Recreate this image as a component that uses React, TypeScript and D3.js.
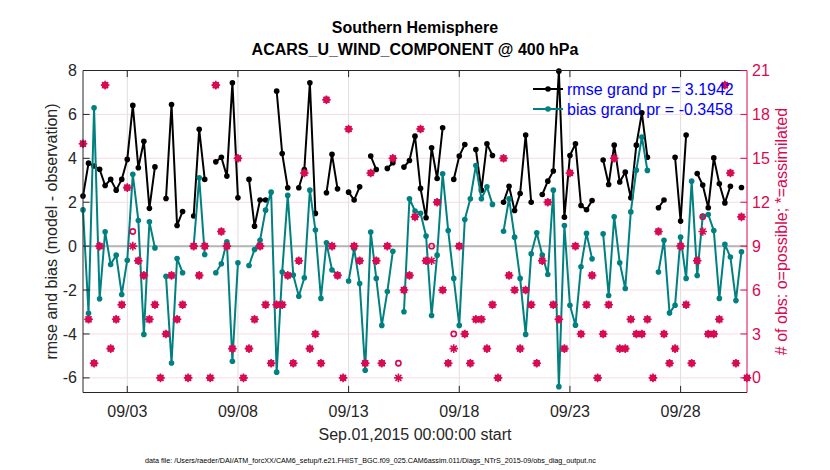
import { useEffect, useRef } from 'react';
import * as d3 from 'd3';

// 6-hourly bins starting Sep 1 2015 00Z (121 bins, NaN = no value)
const rmse = [
  2.28, 3.78, 3.65, 3.5, 2.76, 3.04, 2.55, 3.04, 3.95, 6.41,
  3.57, 4.78, 1.72, 3.61, NaN, 2.17, 6.45, 0.94, 1.58, NaN,
  1.37, 5.32, 3.04, NaN, 3.84, 4.05, 3.19, 7.44, 2.2, NaN,
  3.04, 0.91, 2.1, 2.1, NaN, 7.06, 4.22, 2.66, NaN, 2.66,
  3.49, 7.44, 1.49, NaN, 2.43, 4.18, 2.61, NaN, 2.46, 2.1,
  2.7, NaN, 4.1, 3.49, NaN, 3.54, 3.8, NaN, 3.6, 3.9,
  5.01, 2.63, 1.29, 4.48, 3.08, 5.39, NaN, 3.04, 4.1, 4.63,
  NaN, 4.4, 2.55, 4.66, 4.13, NaN, 2.0, 2.73, 1.62, 2.4,
  5.06, 2.0, NaN, 2.35, 2.96, 3.42, 7.97, 1.32, 4.13, 4.66,
  1.85, 1.66, 2.08, NaN, 3.92, 2.81, 4.6, 2.92, 3.37, 2.2,
  4.6, 6.07, 4.05, NaN, 1.75, 2.1, NaN, 4.05, 1.14, 5.06,
  NaN, 3.31, 2.78, 1.75, 4.02, 2.84, 1.97, 2.73, NaN, 2.67,
  NaN,
];
const bias = [
  1.65, -3.06, 6.3, -2.4, 0.65, -0.84, -0.41, -2.2, -0.64, 3.27,
  1.17, -4.02, 1.11, -0.08, NaN, -1.37, -5.32, -0.56, -1.21, NaN,
  0.0, 3.11, -0.38, NaN, -1.21, -0.8, 0.2, -5.24, -0.76, NaN,
  -0.88, -0.15, 0.27, 1.64, 2.46, -5.74, -1.18, 2.31, -1.32, -2.28,
  -1.44, 2.55, 0.73, -2.38, 0.15, -1.09, -1.29, NaN, -1.59, -0.12,
  -1.7, -5.65, 0.64, -1.47, -3.61, -2.07, -0.23, NaN, -2.99, 2.16,
  1.6, 1.5, 0.46, -3.16, -0.41, 3.3, 0.71, -1.47, -3.61, 1.21,
  2.16, 3.67, 2.16, 2.7, 1.9, NaN, 0.68, 2.16, 0.41, -1.47,
  -4.02, -0.35, 0.61, -0.41, -1.29, 2.55, -6.4, 0.94, -2.69, -3.6,
  -0.94, 0.58, -0.58, NaN, 0.56, -2.25, 1.34, -0.76, -1.93, 1.56,
  3.46, 4.97, 3.45, NaN, -1.18, 0.27, -3.04, -2.69, 0.41, -1.47,
  2.96, -1.34, 1.37, 1.44, 0.71, -2.38, 0.08, -0.5, -2.48, -0.26,
  NaN,
];
const nPossible = [
  16, 4, 1, 9, 20, 2, 4, 5, 13, 10,
  8, 7, 4, 5, 0, 3, 7, 4, 5, 0,
  9, 7, 9, 0, 20, 10, 9, 2, 15, 0,
  2, 4, 9, 5, 1, 5, 5, 7, 1, 8,
  14, 2, 3, 1, 19, 9, 7, 0, 17, 9,
  8, 1, 14, 8, 1, 9, 15, 1, 6, 7,
  11, 17, 8, 9, 12, 6, 1, 3, 9, 3,
  1, 4, 4, 2, 5, 0, 15, 7, 6, 2,
  6, 5, 1, 8, 12, 5, 4, 2, 14, 9,
  3, 5, 7, 0, 3, 5, 15, 2, 2, 4,
  3, 3, 4, 0, 10, 3, 1, 2, 9, 5,
  1, 8, 11, 3, 3, 4, 20, 14, 1, 11,
  0,
];
const nAssimilated = [
  16, 4, 1, 9, 20, 2, 4, 5, 13, 9,
  8, 7, 4, 5, 0, 3, 7, 4, 5, 0,
  9, 7, 9, 0, 20, 10, 9, 2, 15, 0,
  2, 4, 9, 5, 1, 5, 5, 7, 1, 8,
  14, 2, 3, 1, 19, 9, 7, 0, 17, 9,
  8, 1, 14, 8, 1, 9, 15, 0, 6, 7,
  11, 17, 8, 8, 12, 6, 1, 2, 9, 3,
  1, 4, 4, 2, 5, 0, 15, 7, 6, 2,
  6, 5, 1, 8, 12, 5, 4, 2, 14, 9,
  3, 5, 7, 0, 3, 5, 15, 2, 2, 4,
  3, 3, 4, 0, 10, 3, 1, 2, 9, 5,
  1, 8, 10, 3, 3, 4, 20, 14, 1, 11,
  0,
];

const xTickDates = ['2015-09-03', '2015-09-08', '2015-09-13', '2015-09-18', '2015-09-23', '2015-09-28'];
const xTickLabels = ['09/03', '09/08', '09/13', '09/18', '09/23', '09/28'];
const leftTicks = [-6, -4, -2, 0, 2, 4, 6, 8];
const rightTicks = [0, 3, 6, 9, 12, 15, 18, 21];

const rmseGrand = '3.1942';
const biasGrand = '-0.3458';

export default function App() {
  const svgRef = useRef<SVGSVGElement>(null);
  const width = 830;
  const height = 470;

  useEffect(() => {
    if (!svgRef.current) return;
    const svg = d3.select(svgRef.current);
    svg.selectAll('*').remove();

    const font = '"Liberation Sans", Arial, Helvetica, sans-serif';
    const axisColor = '#262626';
    const pink = '#d70a53';
    const teal = '#008080';
    const left = 83, right = 747, top = 70.5, bottom = 392.5;

    const start = Date.UTC(2015, 8, 1);
    const times = rmse.map((_, i) => new Date(start + i * 6 * 3600 * 1000));

    const x = d3.scaleUtc()
      .domain([new Date(start), new Date(Date.UTC(2015, 9, 1))])
      .range([left, right]);
    const y = d3.scaleLinear().domain([-20 / 3, 8]).range([bottom, top]);
    const yR = d3.scaleLinear().domain([-1, 21]).range([bottom, top]);

    const g = svg.append('g');

    // vertical grid
    xTickDates.forEach(d => {
      const xx = x(new Date(d + 'T00:00:00Z'));
      g.append('line')
        .attr('x1', xx).attr('x2', xx).attr('y1', top).attr('y2', bottom)
        .attr('stroke', '#dedede').attr('stroke-width', 1);
    });
    // pink horizontal grid from the count axis
    rightTicks.forEach(t => {
      g.append('line')
        .attr('x1', left).attr('x2', right).attr('y1', yR(t)).attr('y2', yR(t))
        .attr('stroke', '#f9dae5').attr('stroke-width', 1);
    });
    // zero line
    g.append('line')
      .attr('x1', left).attr('x2', right).attr('y1', y(0)).attr('y2', y(0))
      .attr('stroke', '#b5b5b5').attr('stroke-width', 2);

    // rmse and bias series
    const series = [
      { values: rmse, color: '#000000' },
      { values: bias, color: teal },
    ];
    series.forEach(s => {
      const line = d3.line<number>()
        .defined(v => !isNaN(v))
        .x((_, i) => x(times[i]))
        .y(v => y(v));
      g.append('path')
        .datum(s.values)
        .attr('d', line)
        .attr('fill', 'none')
        .attr('stroke', s.color)
        .attr('stroke-width', 2)
        .attr('stroke-linejoin', 'round');
      s.values.forEach((v, i) => {
        if (isNaN(v)) return;
        g.append('circle')
          .attr('cx', x(times[i])).attr('cy', y(v)).attr('r', 2.8)
          .attr('fill', s.color);
      });
    });

    // obs counts: o = possible, * = assimilated
    nPossible.forEach((v, i) => {
      g.append('circle')
        .attr('cx', x(times[i])).attr('cy', yR(v)).attr('r', 2.6)
        .attr('fill', 'none').attr('stroke', pink).attr('stroke-width', 1.6);
    });
    const a = 4.3, b = a * 0.7;
    nAssimilated.forEach((v, i) => {
      const cx = x(times[i]);
      const cy = yR(v);
      g.append('path')
        .attr('d', `M${cx - a},${cy}L${cx + a},${cy}M${cx},${cy - a}L${cx},${cy + a}` +
          `M${cx - b},${cy - b}L${cx + b},${cy + b}M${cx - b},${cy + b}L${cx + b},${cy - b}`)
        .attr('stroke', pink).attr('stroke-width', 1.6).attr('fill', 'none');
    });

    // axes box
    const tl = 6.6;
    g.append('path')
      .attr('d', `M${right},${top}L${left},${top}L${left},${bottom}L${right},${bottom}`)
      .attr('fill', 'none').attr('stroke', axisColor).attr('stroke-width', 1);
    g.append('line')
      .attr('x1', right).attr('x2', right).attr('y1', top).attr('y2', bottom)
      .attr('stroke', pink).attr('stroke-width', 1);

    xTickDates.forEach((d, k) => {
      const xx = x(new Date(d + 'T00:00:00Z'));
      g.append('line').attr('x1', xx).attr('x2', xx).attr('y1', bottom).attr('y2', bottom - tl)
        .attr('stroke', axisColor);
      g.append('line').attr('x1', xx).attr('x2', xx).attr('y1', top).attr('y2', top + tl)
        .attr('stroke', axisColor);
      g.append('text')
        .attr('x', xx).attr('y', bottom + 24)
        .attr('text-anchor', 'middle')
        .attr('font-family', font).attr('font-size', 16).attr('fill', axisColor)
        .text(xTickLabels[k]);
    });
    leftTicks.forEach(t => {
      g.append('line').attr('x1', left).attr('x2', left + tl).attr('y1', y(t)).attr('y2', y(t))
        .attr('stroke', axisColor);
      g.append('text')
        .attr('x', left - 6).attr('y', y(t))
        .attr('dy', '0.35em')
        .attr('text-anchor', 'end')
        .attr('font-family', font).attr('font-size', 16).attr('fill', axisColor)
        .text(String(t));
    });
    rightTicks.forEach(t => {
      g.append('line').attr('x1', right).attr('x2', right - tl).attr('y1', yR(t)).attr('y2', yR(t))
        .attr('stroke', pink);
      g.append('text')
        .attr('x', right + 5).attr('y', yR(t))
        .attr('dy', '0.35em')
        .attr('font-family', font).attr('font-size', 16).attr('fill', pink)
        .text(String(t));
    });

    // axis labels
    g.append('text')
      .attr('x', (left + right) / 2).attr('y', 440)
      .attr('text-anchor', 'middle')
      .attr('font-family', font).attr('font-size', 16).attr('fill', axisColor)
      .text('Sep.01,2015 00:00:00 start');
    g.append('text')
      .attr('transform', `translate(57,${(top + bottom) / 2}) rotate(-90)`)
      .attr('text-anchor', 'middle')
      .attr('font-family', font).attr('font-size', 16).attr('fill', axisColor)
      .text('rmse and bias (model - observation)');
    g.append('text')
      .attr('transform', `translate(787,${(top + bottom) / 2}) rotate(-90)`)
      .attr('text-anchor', 'middle')
      .attr('font-family', font).attr('font-size', 16).attr('fill', pink)
      .text('# of obs: o=possible; *=assimilated');

    // title
    g.append('text')
      .attr('x', (left + right) / 2).attr('y', 33)
      .attr('text-anchor', 'middle')
      .attr('font-family', font).attr('font-size', 16).attr('font-weight', 'bold').attr('fill', '#000')
      .text('Southern Hemisphere');
    g.append('text')
      .attr('x', (left + right) / 2).attr('y', 55)
      .attr('text-anchor', 'middle')
      .attr('font-family', font).attr('font-size', 16).attr('font-weight', 'bold').attr('fill', '#000')
      .text('ACARS_U_WIND_COMPONENT @ 400 hPa');

    // legend
    const legend = [
      { color: '#000000', label: `rmse grand pr = ${rmseGrand}`, y: 89 },
      { color: teal, label: `bias grand pr = ${biasGrand}`, y: 109 },
    ];
    legend.forEach(l => {
      g.append('line').attr('x1', 533).attr('x2', 563).attr('y1', l.y).attr('y2', l.y)
        .attr('stroke', l.color).attr('stroke-width', 2);
      g.append('circle').attr('cx', 548).attr('cy', l.y).attr('r', 2.8).attr('fill', l.color);
      g.append('text')
        .attr('x', 567).attr('y', l.y).attr('dy', '0.35em')
        .attr('font-family', font).attr('font-size', 16).attr('fill', '#0000ff')
        .text(l.label);
    });

    // data file footer
    g.append('text')
      .attr('x', 145).attr('y', 463)
      .attr('font-family', font).attr('font-size', 7.2).attr('fill', '#000')
      .text('data file: /Users/raeder/DAI/ATM_forcXX/CAM6_setup/f.e21.FHIST_BGC.f09_025.CAM6assim.011/Diags_NTrS_2015-09/obs_diag_output.nc');
  }, []);

  return (
    <svg
      ref={svgRef}
      width={width}
      height={height}
      viewBox={`0 0 ${width} ${height}`}
      style={{ position: 'absolute', left: 0, top: 0, background: '#fff' }}
    />
  );
}
